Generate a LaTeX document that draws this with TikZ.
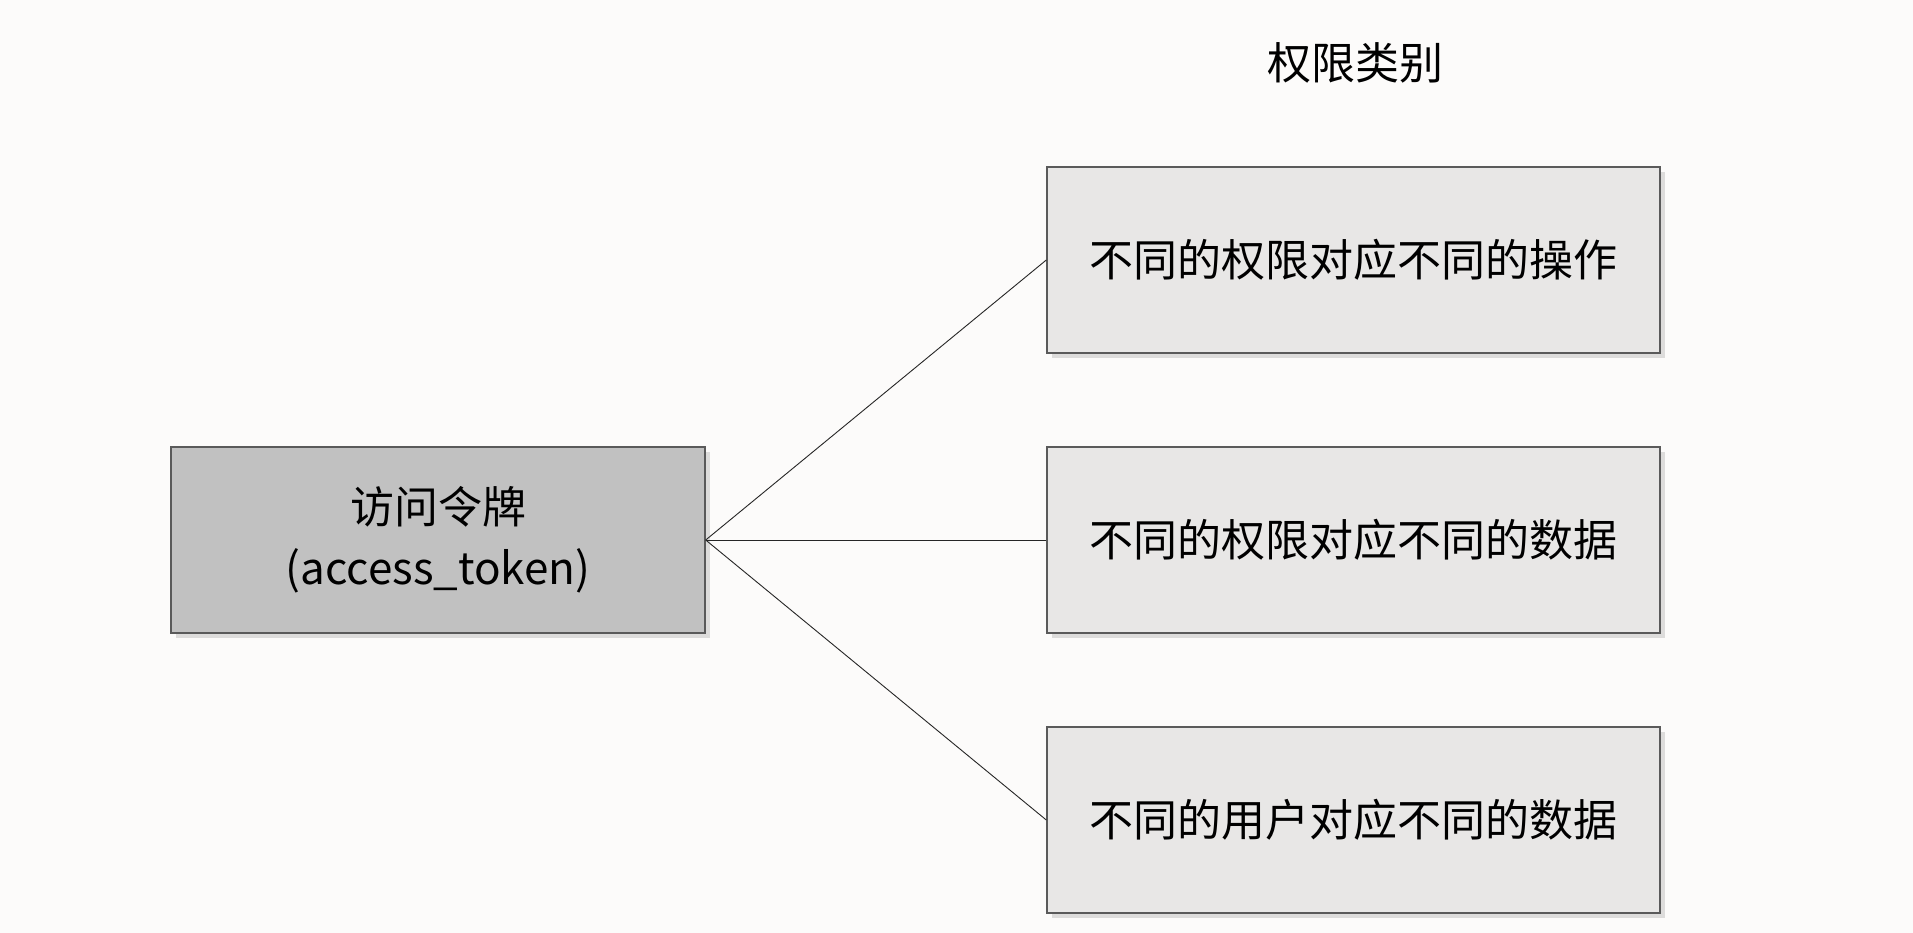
\documentclass[tikz,border=0pt]{standalone}
\usepackage{fontspec}
\usetikzlibrary{shadows}
\newfontfamily\cjk{Noto Sans CJK SC}
\definecolor{pagebg}{HTML}{FCFBFA}
\definecolor{tokenfill}{HTML}{C1C1C1}
\definecolor{catfill}{HTML}{E8E7E6}
\definecolor{boxline}{HTML}{5A5A5A}
\begin{document}
\begin{tikzpicture}[x=1pt,y=-1pt,
  box/.style={draw=boxline,line width=1.4pt,minimum width=613pt,minimum height=186pt,
    inner sep=0pt,font=\cjk\fontsize{44}{61}\selectfont,align=center,
    drop shadow={shadow xshift=5pt,shadow yshift=-5pt,fill=black,opacity=0.12}},
  tokenbox/.style={box,fill=tokenfill,minimum width=534pt},
  catbox/.style={box,fill=catfill},
  link/.style={draw=black!85,line width=0.9pt}]
  \fill[pagebg] (0,0) rectangle (1913,933);
  \useasboundingbox (0,0) rectangle (1913,933);

  \node[font=\cjk\fontsize{44}{52}\selectfont] (title) at (1355,63) {权限类别};

  \node[tokenbox] (token) at (438,540) {访问令牌\\(access\_token)};

  \node[catbox] (c1) at (1353.5,260) {不同的权限对应不同的操作};
  \node[catbox] (c2) at (1353.5,540) {不同的权限对应不同的数据};
  \node[catbox] (c3) at (1353.5,820) {不同的用户对应不同的数据};

  \draw[link] (token.east) -- (c1.west);
  \draw[link] (token.east) -- (c2.west);
  \draw[link] (token.east) -- (c3.west);
\end{tikzpicture}
\end{document}
